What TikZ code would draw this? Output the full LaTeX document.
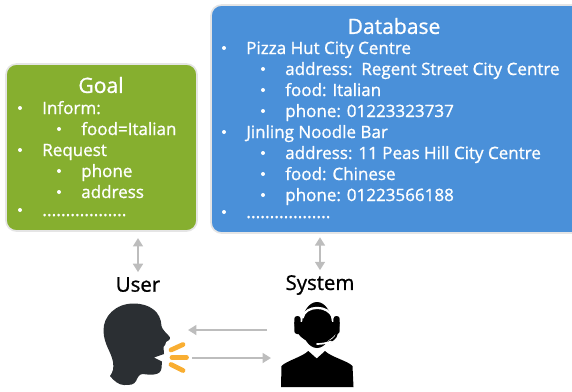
\documentclass[tikz,border=0pt]{standalone}
\usepackage{fontspec}
\setmainfont{Open Sans}[FakeBold=1]
\usetikzlibrary{arrows.meta}
\definecolor{goalgreen}{HTML}{86AF2F}
\definecolor{dbblue}{HTML}{4A90D9}
\definecolor{headgrey}{HTML}{2B2F33}
\definecolor{speechorange}{HTML}{F9AE32}
\definecolor{arrowgrey}{HTML}{BDBDBD}
\tikzset{
  panel/.style={draw=black!10,line width=1.2pt,rounded corners=7.5pt},
  title/.style={text=white,font=\fontsize{15}{15}\selectfont},
  item/.style={anchor=base west,inner sep=0pt,text=white,font=\fontsize{12.1}{12.1}\selectfont},
  actor/.style={text=black,font=\fontsize{14.5}{14.5}\selectfont},
  flow/.style={draw=arrowgrey,line width=1.8pt,-{Triangle[length=6pt,width=7pt]}},
  biflow/.style={draw=arrowgrey,line width=1.8pt,{Triangle[length=6pt,width=7pt]}-{Triangle[length=6pt,width=7pt]}},
  speech/.style={draw=speechorange,line width=3.4pt,line cap=round}
}
\begin{document}
\begin{tikzpicture}[x=0.025cm,y=-0.025cm]
    \useasboundingbox (0,0) rectangle (572,391);

    % panels
    \path[fill=goalgreen,panel] (6,64) rectangle (197,231);
    \path[fill=dbblue,panel] (211,5) rectangle (590,233);
    \node[title] (goal) at (101,85) {Goal};
    \node[title] (database) at (394,26) {Database};

    % goal list
    \foreach \name/\y/\lvl/\txt in {inform/114/0/Inform:,food/135/1/food=Italian,request/156/0/Request,phone/177/1/phone,address/198/1/address,more/216/0/{\fontsize{12.5}{12.5}\selectfont ..................}}
    {
        \node[item] (g\name) at (42+39*\lvl,\y) {\txt};
        \fill[white] (20+39*\lvl,\y-6) circle (2);
    }

    % database list
    \foreach \name/\y/\lvl/\txt in {pizza/54/0/Pizza Hut City Centre,paddr/75/1/{address:\ \ Regent Street City Centre},pfood/96/1/food: Italian,pphone/117/1/phone: 01223323737,jinling/138/0/Jinling Noodle Bar,jaddr/159/1/address: 11 Peas Hill City Centre,jfood/180/1/food: Chinese,jphone/201/1/phone: 01223566188,more/218/0/{\fontsize{12.5}{12.5}\selectfont ..................}}
    {
        \node[item] (d\name) at (246+39*\lvl,\y) {\txt};
        \fill[white] (224+39*\lvl,\y-6) circle (2);
    }

    % actors
    \node[actor] (user) at (138,284.5) {User};
    \node[actor] (system) at (320,285) {System};
    \coordinate (goalend) at (138,231);
    \coordinate (dbend) at (320,233);
    \draw[biflow,shorten <=5pt,shorten >=0pt] (goalend) -- (user.north);
    \draw[biflow,shorten <=3pt,shorten >=0pt] (dbend) -- (system.north);

    % user head
    \fill[headgrey] (133.5,303.5) .. controls (116,303.5) and (103,316) .. (103.5,331)
        .. controls (104,345) and (111,351) .. (113,362)
        .. controls (114,368) and (113,372) .. (110,376)
        .. controls (114,381) and (119,385) .. (124,385)
        .. controls (130,385) and (134,385) .. (136,381)
        .. controls (138,377) and (139,374) .. (143,374)
        .. controls (150,375) and (161,376) .. (161.5,368)
        -- (162,361.5) -- (154,357.5) -- (164,354) -- (163.5,347)
        .. controls (165,345) and (166,344) .. (166,342)
        .. controls (170,340) and (171,338) .. (169,336)
        .. controls (166,333) and (162,329) .. (161.5,326)
        .. controls (161,312) and (150,303.5) .. (133.5,303.5) -- cycle;

    % speech marks
    \draw[speech] (171,350) -- (183,344.5);
    \draw[speech] (172,357.5) -- (186.5,357.5);
    \draw[speech] (171,364.5) -- (183,370.5);

    % agent
    \fill[black] (294.3,322) arc (180:0:22.7 and 21) -- cycle;
    \fill[black,rounded corners=2pt] (294.3,316) rectangle (300.6,334);
    \fill[black,rounded corners=2pt] (333.4,316) rectangle (339.7,334);
    \fill[black] (317,325) ellipse (15 and 23);
    \draw[white,line width=1.6pt] (302.5,318) .. controls (305,304.5) and (329,304.5) .. (333,318);
    \draw[black,line width=1.4pt] (337,333) .. controls (336,339) and (331,341) .. (328,342);
    \draw[white,line width=1.2pt,line cap=round] (331,341.5) .. controls (327,343) and (322,344) .. (317,344);
    \fill[black] (281,387) -- (281.5,366) .. controls (286,361) and (302,357) .. (308.3,351)
        -- (316.7,358.5) -- (325,351) .. controls (331,357) and (348,361) .. (352.5,366) -- (353.5,387) -- cycle;

    % dialogue
    \coordinate (agentleft) at (267,330);
    \coordinate (headright) at (188,330);
    \coordinate (mouthright) at (192,358);
    \coordinate (agentin) at (271,358);
    \draw[flow] (agentleft) -- (headright);
    \draw[flow] (mouthright) -- (agentin);

\end{tikzpicture}
\end{document}
